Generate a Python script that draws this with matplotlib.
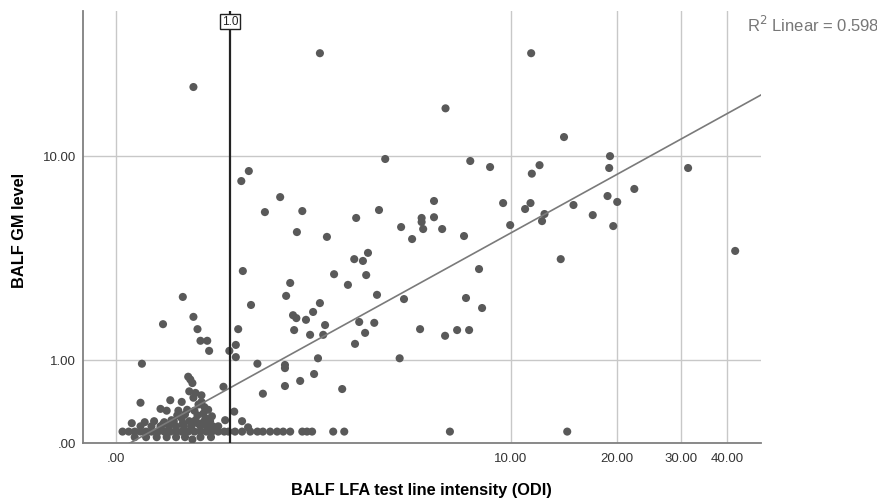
import numpy as np
import matplotlib
matplotlib.use("Agg")
from matplotlib import pyplot as plt

plt.rcParams['font.family'] = ['Liberation Sans', 'DejaVu Sans']

# BALF LFA test line intensity (ODI) vs BALF GM level
x_odi = [
    # right side
    14.2, 19.1, 19.0, 31.3, 22.3, 18.8, 20.0, 15.1, 17.1, 19.5, 42.0, 13.9, 14.5,
    6.4, 7.6, 8.7, 12.1, 11.5, 5.9, 9.5, 11.4, 11.0, 5.4, 5.9, 5.4, 4.65, 5.46,
    6.25, 5.04, 7.28, 9.96, 12.5, 12.3, 8.07, 4.75, 7.38, 8.24, 5.34, 6.38, 6.94,
    7.54, 4.6, 6.6,
    # middle
    1.88, 3.09, 1.27, 1.81, 3.88, 2.45, 2.31, 1.93, 1.99, 2.17, 2.56, 3.38, 3.8,
    1.1, 1.95, 2.25, 2.52, 3.54, 1.07, 3.27, 0.99, 1.07, 1.36, 1.79, 1.79, 2.41,
    2.06, 2.33, 1.79, 2.95, 1.44, 1.05, 1.15, 1.23, 0.94,
    0.98, 1.06, 1.15, 1.26, 1.36, 1.44, 1.55, 1.66, 1.76, 1.88, 2.1, 2.19, 2.29,
    2.74, 3.0,
    # upper middle
    4.13, 1.24, 1.14, 1.71, 1.47, 2.1, 3.3, 3.94, 2.0, 2.6, 3.62, 3.25, 3.48,
    1.16, 2.76, 3.57,
    # top outliers
    0.6, 2.45, 11.45,
    # left
    0.5, 0.6, 0.33, 0.64, 0.67, 0.74, 0.76, 0.17, 0.55, 0.59, 0.56, 0.62, 0.92,
    0.16, 0.39, 0.49, 0.68, 0.68, 0.31, 0.36, 0.46, 0.54, 0.61, 0.71, 0.75, 0.4,
    0.49, 0.62, 0.72, 0.79, 0.19, 0.33, 0.1, 0.04, 0.8, 0.59,
    0.57, 0.6, 0.65, 0.7, 0.64, 0.52, 0.45,
    # dense cluster near zero
    0.08, 0.12, 0.16, 0.2, 0.24, 0.29, 0.34, 0.39, 0.44, 0.49, 0.55, 0.61, 0.67,
    0.73, 0.79, 0.86, 0.93,
    0.12, 0.2, 0.28, 0.36, 0.44, 0.52, 0.67, 0.78,
    0.16, 0.24, 0.31, 0.38, 0.44, 0.51, 0.58, 0.67, 0.74, 0.86,
    0.26, 0.34, 0.42, 0.5, 0.56, 0.64, 0.7, 0.77,
]
y_gm = [
    11.9, 10.0, 8.96, 8.96, 7.36, 6.88, 6.5, 6.31, 5.72, 5.13, 3.98, 3.65, 0.1,
    15.4, 9.56, 9.04, 9.2, 8.5, 6.56, 6.43, 6.43, 6.07, 5.56, 5.6, 5.34, 5.08, 4.98,
    4.98, 4.5, 4.64, 5.18, 5.78, 5.39, 3.28, 2.33, 2.36, 2.09, 1.59, 1.45, 1.57,
    1.57, 1.03, 0.1,
    2.81, 2.75, 2.17, 2.42, 2.45, 2.22, 1.99, 1.91, 1.84, 1.8, 1.68, 1.75, 1.73,
    1.59, 1.57, 1.47, 1.47, 1.51, 1.27, 1.29, 1.16, 1.05, 0.94, 0.92, 0.87, 1.03,
    0.68, 0.78, 0.61, 0.57, 0.51, 0.30, 0.2, 0.14, 0.21,
    0.1, 0.1, 0.1, 0.1, 0.1, 0.1, 0.1, 0.1, 0.1, 0.1, 0.1, 0.1, 0.1,
    0.1, 0.1,
    9.74, 8.71, 7.93, 6.81, 5.89, 5.95, 5.56, 6.01, 4.83, 4.6, 3.9, 3.65, 3.58,
    3.21, 3.1, 3.07,
    18.6, 25.0, 25.0,
    2.39, 1.87, 1.7, 1.59, 1.35, 1.35, 1.16, 0.94, 0.74, 0.65, 0.54, 0.52, 0.6,
    0.40, 0.43, 0.41, 0.49, 0.41, 0.33, 0.31, 0.31, 0.32, 0.31, 0.35, 0.32, 0.21,
    0.23, 0.21, 0.23, 0.25, 0.19, 0.17, 0.18, 0.1, 0.15, 0.03,
    0.7, 0.46, 0.38, 0.28, 0.26, 0.27, 0.26,
    0.1, 0.1, 0.1, 0.1, 0.1, 0.1, 0.1, 0.1, 0.1, 0.1, 0.1, 0.1, 0.1,
    0.1, 0.1, 0.1, 0.1,
    0.05, 0.05, 0.05, 0.05, 0.05, 0.05, 0.05, 0.05,
    0.15, 0.15, 0.15, 0.15, 0.15, 0.15, 0.15, 0.15, 0.15, 0.15,
    0.2, 0.19, 0.2, 0.18, 0.2, 0.18, 0.19, 0.2,
]

x_ticks = [0, 10, 20, 30, 40]
x_tick_labels = [".00", "10.00", "20.00", "30.00", "40.00"]
y_ticks = [0, 1, 10]
y_tick_labels = [".00", "1.00", "10.00"]

# fit line in log10(v+1) space, as drawn by SPSS
fit_slope = 0.759
fit_intercept = -0.028
r2_text = "R$^2$ Linear = 0.598"
ref_x = 1.0


def fwd(v):
    return np.log10(np.maximum(np.asarray(v, dtype=float) + 1, 1e-9))


def inv(t):
    return 10 ** np.asarray(t, dtype=float) - 1


fig = plt.figure(figsize=(8.78, 5.0), dpi=100)
ax = fig.add_axes([83 / 878, 57 / 500, 678 / 878, 432 / 500])
ax.set_xscale('function', functions=(fwd, inv))
ax.set_yscale('function', functions=(fwd, inv))
ax.set_xlim(-0.182, 49.3)
ax.set_ylim(0, 36.0)

ax.set_xticks(x_ticks)
ax.set_xticklabels(x_tick_labels)
ax.set_yticks(y_ticks)
ax.set_yticklabels(y_tick_labels)
ax.minorticks_off()
ax.tick_params(length=0, labelsize=9.5, colors='#333333', pad=7)
ax.tick_params(axis='y', pad=5)

ax.grid(True, color='#c8c8c8', linewidth=1)
ax.set_axisbelow(True)
for side in ['top', 'right']:
    ax.spines[side].set_visible(False)
for side in ['left', 'bottom']:
    ax.spines[side].set_color('#808080')
    ax.spines[side].set_linewidth(1.3)

ax.scatter(x_odi, y_gm, s=34, color='#595959', edgecolors='none', zorder=3)

# regression line
xs = inv(np.linspace(fwd(-0.182), fwd(49.3), 200))
ys = inv(fit_intercept + fit_slope * fwd(xs))
ax.plot(xs, ys, color='#7a7a7a', linewidth=1.2, zorder=4)

# reference line at x = 1
ax.axvline(ref_x, color='#222222', linewidth=1.6, zorder=5)
ax.text(ref_x, 34.6, "1.0", ha='center', va='top', fontsize=8.5, color='#222222',
        zorder=6, bbox=dict(boxstyle='square,pad=0.15', fc='white', ec='#222222', lw=1))

fig.text(747 / 878, 1 - 25 / 500, r2_text, ha='left', va='center', fontsize=12, color='#777777')

fig.text(20 / 878, 1 - 230 / 500, "BALF GM level", rotation=90, ha='center', va='center',
         fontsize=11.8, fontweight='bold')
fig.text(421 / 878, 1 - 490 / 500, "BALF LFA test line intensity (ODI)", ha='center', va='center',
         fontsize=11.8, fontweight='bold')

fig.savefig("out.png", dpi=100)
